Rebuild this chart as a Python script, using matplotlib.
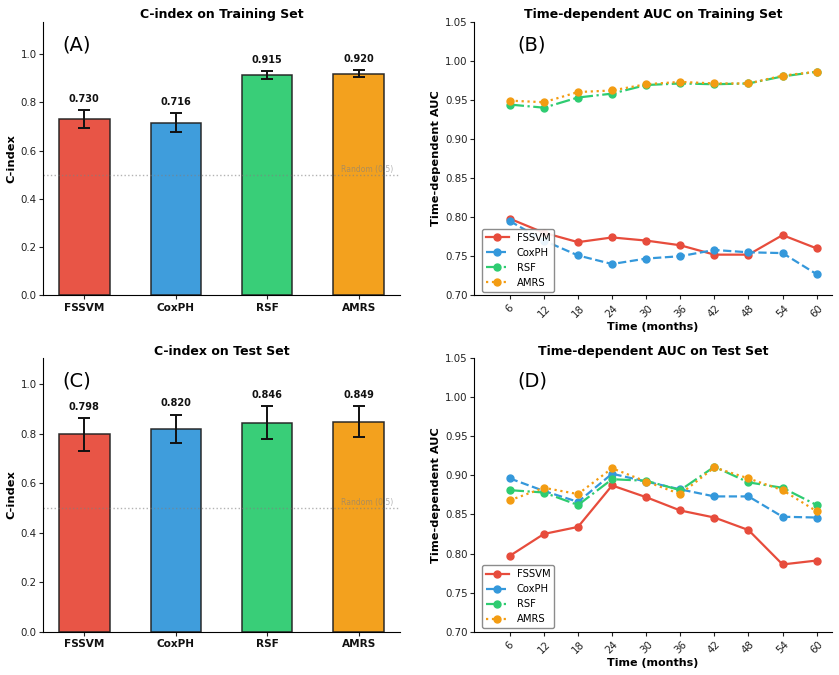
import matplotlib
matplotlib.use("Agg")
import matplotlib.pyplot as plt
import numpy as np

models = ["FSSVM", "CoxPH", "RSF", "AMRS"]
colors = ["#e74c3c", "#3498db", "#2ecc71", "#f39c12"]
linestyles = ["-", "--", "-.", ":"]

train_cindex = [0.730, 0.716, 0.915, 0.920]
train_err = [0.038, 0.039, 0.017, 0.016]
test_cindex = [0.798, 0.820, 0.846, 0.849]
test_err = [0.067, 0.058, 0.066, 0.063]

times = [6, 12, 18, 24, 30, 36, 42, 48, 54, 60]

train_auc = {
    "FSSVM": [0.798, 0.780, 0.768, 0.774, 0.770, 0.764, 0.752, 0.752, 0.777, 0.760],
    "CoxPH": [0.795, 0.770, 0.751, 0.740, 0.747, 0.750, 0.758, 0.755, 0.754, 0.727],
    "RSF":   [0.944, 0.940, 0.953, 0.958, 0.969, 0.971, 0.970, 0.971, 0.980, 0.986],
    "AMRS":  [0.949, 0.947, 0.960, 0.962, 0.970, 0.973, 0.971, 0.971, 0.981, 0.986],
}
test_auc = {
    "FSSVM": [0.797, 0.825, 0.834, 0.887, 0.872, 0.855, 0.846, 0.830, 0.786, 0.791],
    "CoxPH": [0.896, 0.880, 0.866, 0.902, 0.892, 0.882, 0.873, 0.873, 0.847, 0.846],
    "RSF":   [0.881, 0.878, 0.862, 0.895, 0.893, 0.881, 0.911, 0.891, 0.884, 0.862],
    "AMRS":  [0.868, 0.884, 0.876, 0.909, 0.892, 0.876, 0.910, 0.896, 0.881, 0.854],
}

W, H = 839, 675
fig = plt.figure(figsize=(W / 100, H / 100), dpi=100)

def fr(x0, y0, x1, y1):
    return [x0 / W, 1 - y1 / H, (x1 - x0) / W, (y1 - y0) / H]

axA = fig.add_axes(fr(43, 21.7, 400, 295.3))
axB = fig.add_axes(fr(474, 21.7, 832, 295.3))
axC = fig.add_axes(fr(43, 358, 400, 631.7))
axD = fig.add_axes(fr(474, 358, 832, 631.7))

TITLE_FS = 9
TICK_FS = 7.4
LABEL_FS = 8.2
PANEL_FS = 14


def style_ticks(ax):
    ax.tick_params(axis="both", length=3, width=0.8, pad=1.5, labelsize=TICK_FS,
                   colors="#222222", labelcolor="#222222")


def bar_panel(ax, vals, errs, title, panel, ytop):
    x = np.arange(len(models))
    ax.bar(x, vals, width=0.55, color=colors, edgecolor="#222222", linewidth=1.1,
           alpha=0.95, yerr=errs, capsize=4.5,
           error_kw=dict(elinewidth=1.4, capthick=1.4, ecolor="#111111"))
    for xi, v, e in zip(x, vals, errs):
        ax.text(xi, v + e + 0.025, f"{v:.3f}", ha="center", va="bottom",
                fontsize=7, fontweight="bold", color="#111111")
    ax.axhline(0.5, color="gray", linestyle=":", linewidth=1.0, alpha=0.6)
    ax.text(3.38, 0.505, "Random (0.5)", ha="right", va="bottom", fontsize=5.5,
            color="gray", alpha=0.6)
    ax.set_ylim(0, ytop)
    ax.set_xticks(x)
    style_ticks(ax)
    ax.tick_params(axis="x", pad=2.5)
    ax.set_xticklabels(models, fontsize=7.6, fontweight="bold", color="#111111")
    ax.set_yticks([0.0, 0.2, 0.4, 0.6, 0.8, 1.0])
    ax.set_ylabel("C-index", fontsize=LABEL_FS, fontweight="bold", labelpad=3)
    ax.set_title(title, fontsize=TITLE_FS, fontweight="bold", pad=2.5)
    ax.text(0.055, 0.915, panel, transform=ax.transAxes, fontsize=PANEL_FS,
            ha="left", va="center")
    for s in ["top", "right"]:
        ax.spines[s].set_visible(False)


def line_panel(ax, data, title, panel):
    for m, c, ls in zip(models, colors, linestyles):
        ax.plot(times, data[m], color=c, linestyle=ls, marker="o", markersize=5,
                linewidth=1.6, label=m)
    ax.set_ylim(0.70, 1.05)
    ax.set_xlim(-0.3, 62.7)
    ax.set_xticks(times)
    style_ticks(ax)
    ax.tick_params(axis="x", pad=2.5)
    ax.set_xticklabels([str(t) for t in times], rotation=45, fontsize=TICK_FS)
    ax.set_yticks([0.70, 0.75, 0.80, 0.85, 0.90, 0.95, 1.00, 1.05])
    ax.set_xlabel("Time (months)", fontsize=8, fontweight="bold", labelpad=2)
    ax.set_ylabel("Time-dependent AUC", fontsize=LABEL_FS, fontweight="bold",
                  labelpad=3)
    ax.set_title(title, fontsize=TITLE_FS, fontweight="bold", pad=2.5)
    ax.text(0.12, 0.915, panel, transform=ax.transAxes, fontsize=PANEL_FS,
            ha="left", va="center")
    ax.legend(loc="lower left", fontsize=7.2, framealpha=0.9, edgecolor="gray",
              borderaxespad=0.35, handlelength=2.3, labelspacing=0.5,
              bbox_to_anchor=(0.012, 0.0))
    for s in ["top", "right"]:
        ax.spines[s].set_visible(False)


bar_panel(axA, train_cindex, train_err, "C-index on Training Set", "(A)", 1.135)
line_panel(axB, train_auc, "Time-dependent AUC on Training Set", "(B)")
bar_panel(axC, test_cindex, test_err, "C-index on Test Set", "(C)", 1.107)
line_panel(axD, test_auc, "Time-dependent AUC on Test Set", "(D)")

fig.savefig("out.png", dpi=100, facecolor="white")
